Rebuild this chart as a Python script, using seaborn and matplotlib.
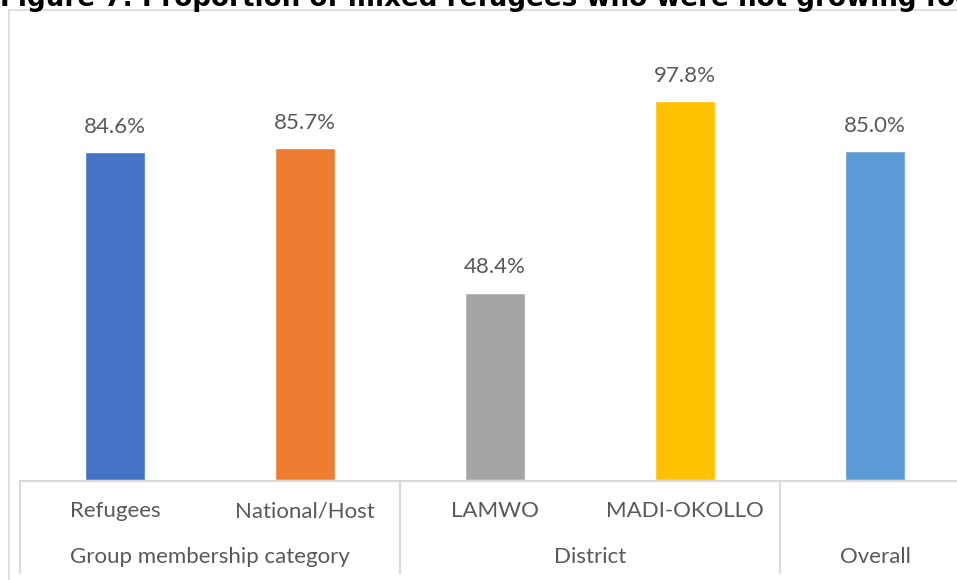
import matplotlib
matplotlib.use("Agg")
import matplotlib.pyplot as plt
import matplotlib.transforms as mtransforms
from matplotlib.lines import Line2D
from matplotlib.patches import Rectangle
import seaborn as sns
import pandas as pd

categories = ["Refugees", "National/Host", "LAMWO", "MADI-OKOLLO", "Overall"]
values = [84.6, 85.7, 48.4, 97.8, 85.0]
groups = ["Group membership category", "District", "Overall"]
group_spans = [(0, 1), (2, 3), (4, 4)]
colors = ["#4472C4", "#ED7D31", "#A5A5A5", "#FFC000", "#5B9BD5"]
title = "Figure 7: Proportion of mixed refugees who were not growing food"

sns.set_theme(style="white")
plt.rcParams['font.family'] = ['Lato', 'DejaVu Sans']

W, H = 957, 580
fig = plt.figure(figsize=(W / 100, H / 100), dpi=100)

# axes: left 20px, right 970px (beyond edge), bottom at 480px from top, top at 16px
left, right, bottom, top = 20, 970, 480, 16
ax = fig.add_axes([left / W, 1 - bottom / H, (right - left) / W, (bottom - top) / H])

df = pd.DataFrame({"cat": categories, "val": values})
sns.barplot(data=df, x="cat", y="val", hue="cat", palette=colors,
            width=0.316, legend=False, ax=ax, saturation=1)
ax.set_xlim(-0.5, len(categories) - 0.5)
ax.set_ylim(0, 119.8)
for s in ax.spines.values():
    s.set_visible(False)
ax.set_xticks([])
ax.set_yticks([])
ax.set_xlabel("")
ax.set_ylabel("")
ax.patch.set_alpha(0)

txtcol = "#595959"
for cont in ax.containers:
    ax.bar_label(cont, fmt="%.1f%%", padding=11, color=txtcol, fontsize=16)

gray = "#D9D9D9"
# outer chart border
fig.patches.append(Rectangle((9 / W, -0.05), 1.2, 1 - 10 / H + 0.05,
                             transform=fig.transFigure, fill=False,
                             edgecolor=gray, lw=1.2))

# category box lines
trans = mtransforms.blended_transform_factory(ax.transData, fig.transFigure)
ybase = 1 - 481 / H
ybot = 1 - 573 / H
ax.add_line(Line2D([-0.5, 5], [ybase, ybase], transform=trans, color=gray,
                   lw=1.5, clip_on=False))
for b in [-0.5, 1.5, 3.5]:
    ax.add_line(Line2D([b, b], [ybase, ybot], transform=trans, color=gray,
                       lw=1.5, clip_on=False))

for i, c in enumerate(categories):
    if c == "Overall":
        continue
    ax.text(i, 1 - 511 / H, c, transform=trans, ha="center", va="center",
            color=txtcol, fontsize=16)
for g, (a, b) in zip(groups, group_spans):
    ax.text((a + b) / 2, 1 - 557 / H, g, transform=trans, ha="center",
            va="center", color=txtcol, fontsize=16)

fig.text(0.0, 1 - 6 / H, title, ha="left", va="baseline", fontsize=18.8,
         fontweight="bold", color="black", family="DejaVu Sans")

fig.savefig("out.png", dpi=100)
